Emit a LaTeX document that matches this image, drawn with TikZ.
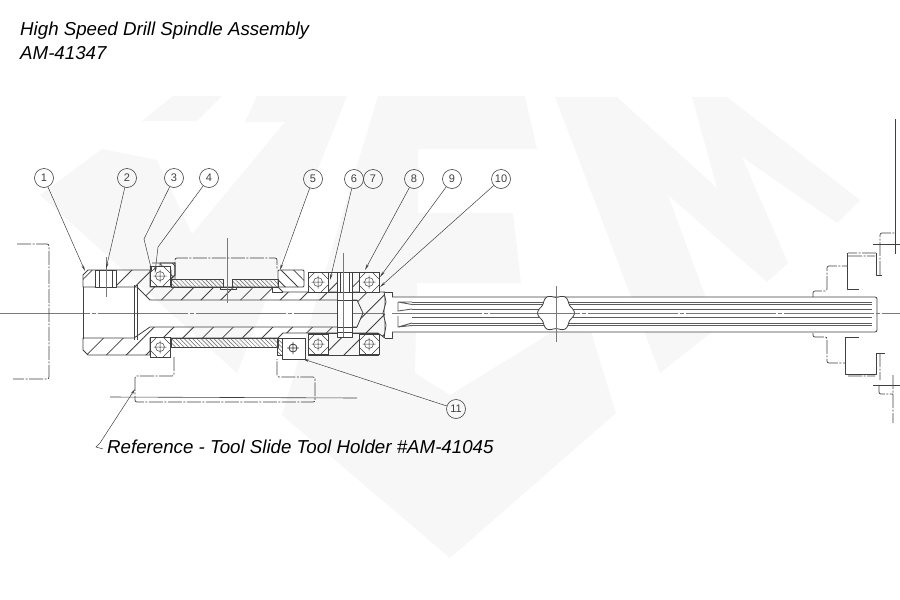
\documentclass[tikz,border=0pt]{standalone}
\usepackage{fontspec}
\usepackage{xcolor}
\setmainfont{Liberation Sans}
\usetikzlibrary{arrows.meta,patterns.meta}
\definecolor{inkgrey}{HTML}{404040}
\definecolor{markgrey}{HTML}{F7F7F7}
\tikzset{
  part/.style={draw=inkgrey, line width=0.8pt, line join=round},
  widehatch/.style={part, pattern={Lines[angle=45,distance=14pt,line width=0.8pt]}, pattern color=inkgrey},
  backhatch/.style={part, pattern={Lines[angle=-45,distance=9pt,line width=0.8pt]}, pattern color=inkgrey},
  finehatch/.style={part, pattern={Lines[angle=-45,distance=3pt,line width=0.5pt]}, pattern color=inkgrey!80},
  phantomline/.style={draw=inkgrey, line width=0.7pt, rounded corners=2pt, dash pattern=on 14pt off 1.5pt on 2pt off 1.5pt},
  centreline/.style={draw=inkgrey!70, line width=0.5pt, dash pattern=on 90pt off 2pt on 4pt off 2pt},
  shaftline/.style={draw=inkgrey!85, line width=0.9pt},
  bubble/.style={circle, draw=inkgrey, line width=0.6pt, minimum size=19pt, inner sep=0pt, font=\fontsize{11}{12}\selectfont, text=inkgrey},
  leader/.style={draw=inkgrey, line width=0.5pt, -{Stealth[length=6pt,width=2.4pt]}},
  caption/.style={anchor=base west, inner sep=0pt, font=\fontsize{18.7}{22}\selectfont\itshape, text=black},
  bearingpic/.pic={
    \draw[draw=inkgrey, line width=0.6pt, fill=white] (-10,-10) rectangle (10,10);
    \draw[draw=inkgrey, line width=0.5pt] (0,0) circle (4.5) (-6.5,0) -- (6.5,0) (0,-6.5) -- (0,6.5);
    \draw[draw=inkgrey, line width=0.5pt]
      (-10,-3) -- (-3,-10) (10,-3) -- (3,-10)
      (-10,3) -- (-3,10) (10,3) -- (3,10)
    ;
  },
}
\begin{document}
\begin{tikzpicture}[x=1pt, y=-1pt]
  \useasboundingbox (0,0) rectangle (900,600);

  \fill[markgrey] (142,121) -- (173,96) -- (222,96) -- (197,121) -- cycle;
  \fill[markgrey]
    (102,149) -- (157,160) -- (192,234) -- (285,122) -- (245,122) -- (257,96)
    -- (347,96) -- (237,373) -- (40,195) -- cycle
  ;
  \fill[markgrey]
    (378,96) -- (525,96) -- (537,149) -- (418,149) -- (418,213) -- (513,213)
    -- (521,283) -- (417,283) -- (415,373) -- (450,395) -- (585,312)
    -- (616,413) -- (450,558) -- (282,415) -- cycle
  ;
  \fill[markgrey]
    (555,97) -- (617,97) -- (717,188) -- (692,97) -- (727,97) -- (860,200)
    -- (837,223) -- (742,157) -- (788,263) -- (767,282) -- (668,195)
    -- (717,328) -- (660,373) -- cycle
  ;

  \node (title) [caption] at (20,35) {High Speed Drill Spindle Assembly};
  \node (number) [caption] at (20,59) {AM-41347};
  \node (refnote) [caption] at (107,453) {Reference - Tool Slide Tool Holder \#AM-41045};

  \draw[centreline] (0,313) -- (392,313);

  \path[widehatch]
    (88,270) -- (150,270) -- (150,287) -- (278,287) -- (283,292) -- (385,292)
    -- (385,338) -- (378,333) -- (283,333) -- (278,338) -- (150,338)
    -- (150,355) -- (88,355) -- (83,350) -- (83,338) -- (134,338) -- (150,327)
    -- (357,327) -- (363,313) -- (357,300) -- (150,300) -- (137,287) -- (83,287)
    -- (83,275) -- cycle
  ;
  \draw[part, fill=white] (95,270) rectangle (116,287);
  \draw[part]
    (99,270) -- (99,287)
    (112,270) -- (112,287)
    (83,287) -- (83,338)
    (134,285) -- (134,340)
    (137,285) -- (137,340)
  ;
  \draw[centreline] (106,257) -- (106,297);

  \draw[part] (152,263) -- (175,263) -- (175,275) -- (171,279);
  \path[backhatch] (160,263) -- (175,263) -- (175,275) -- (171,279) -- (171,270) -- (160,270) -- cycle;
  \draw[finehatch] (171,279) rectangle (223,287);
  \draw[finehatch] (232,279) rectangle (278,287);
  \draw[part] (220,287) rectangle (236,289);
  \draw[finehatch] (171,338) rectangle (278,347);

  \draw[backhatch, rounded corners=1pt] (278,270) rectangle (304,287);
  \draw[part] (272,287) -- (272,292) -- (283,292);
  \draw[finehatch] (277,338) rectangle (282,355);

  \draw[widehatch] (308,272) rectangle (378,292);
  \draw[widehatch] (308,333) rectangle (378,355);
  \pic at (160,276) {bearingpic};
  \pic at (160,347) {bearingpic};
  \pic at (318,282) {bearingpic};
  \pic at (369,282) {bearingpic};
  \pic at (318,344) {bearingpic};
  \pic at (369,344) {bearingpic};

  \draw[part, fill=white] (337,272) -- (352,272) -- (352,337) -- (337,337) -- cycle;
  \draw[part]
    (340,272) -- (340,292)
    (349,272) -- (349,292)
    (337,292) -- (352,292)
    (337,332) -- (352,332)
  ;
  \draw[part] (357,300) -- (337,300) (357,327) -- (337,327);
  \draw[centreline] (343,253) -- (343,337);

  \draw[part, fill=white] (385,292) -- (392,292) -- (392,338) -- (385,338);
  \draw[part] (384,292) -- (386,302) -- (383,313) -- (386,325) -- (384,338);

  \draw[part, fill=white] (282,338) rectangle (305,359);
  \draw[part]
    (293,348) circle (4)
    (287,348) -- (299,348)
    (293,342) -- (293,354)
  ;

  \draw[part, fill=white, rounded corners=2pt] (392,297) -- (877,297) -- (877,332) -- (392,332);
  \foreach \gy in {302,304.5,309,317,323,325.5} {
    \draw[shaftline] (412,\gy) -- (872,\gy);
  }
  \draw[shaftline]
    (398,302) -- (412,302)
    (398,302) -- (398,311) -- (412,309)
    (398,316) -- (398,327) -- (412,325.5)
    (398,327) -- (412,323)
    (398,302) -- (412,304.5)
  ;
  \draw[centreline] (392,313) -- (900,313);
  \draw[part, fill=white]
    plot[domain=0:355, samples=72, smooth cycle] ({556+(17+1.4*cos(6*\x))*cos(\x)}, {313+(17+1.4*cos(6*\x))*sin(\x)})
  ;
  \draw[centreline] (556,286) -- (556,342) (538,313) -- (574,313);

  \draw[centreline] (227,238) -- (227,303);

  \draw[phantomline] (17,244) -- (49,244) -- (49,379) -- (13,379);
  \draw[phantomline] (175,279) -- (175,258) -- (277,258) -- (277,270);
  \draw[phantomline]
    (174,357) -- (174,376) -- (135,376) -- (135,402) -- (315,402) -- (315,377)
    -- (277,377) -- (277,359)
  ;
  \draw[part, line width=0.6pt] (110,397) -- (357,398);

  \draw[phantomline]
    (813,297) -- (813,291) -- (827,291) -- (827,266) -- (847,266)
    (813,333) -- (813,337) -- (827,337) -- (827,363) -- (846,363)
    (876,253) -- (848,253)
    (880,275) -- (880,233) -- (895,233)
    (880,353) -- (880,380)
    (879,385) -- (879,394) -- (893,394)
    (893,375) -- (893,423)
    (848,256) -- (875,256)
    (848,376) -- (875,376)
  ;
  \draw[part, line width=0.7pt]
    (859,289) -- (847,289) -- (847,253)
    (876,253) -- (876,275) -- (882,275)
    (859,337) -- (845,337) -- (845,374) -- (876,374) -- (876,353) -- (885,353)
    (895,119) -- (895,254)
    (873,244) -- (900,244)
    (873,385) -- (900,385)
  ;

  \node (b1) [bubble] at (44,178) {1};
  \node (b2) [bubble] at (127,178) {2};
  \node (b3) [bubble] at (174,178) {3};
  \node (b4) [bubble] at (209,178) {4};
  \node (b5) [bubble] at (313,179) {5};
  \node (b6) [bubble] at (354,179) {6};
  \node (b7) [bubble] at (373,179) {7};
  \node (b8) [bubble] at (414,179) {8};
  \node (b9) [bubble] at (452,179) {9};
  \node (b10) [bubble] at (501,179) {10};
  \node (b11) [bubble] at (456,409) {11};

  \coordinate (t1) at (85,271);
  \coordinate (t2) at (106,269);
  \coordinate (k3) at (144,239);
  \coordinate (t3) at (152,272);
  \coordinate (k4) at (158,247);
  \coordinate (t4) at (155,273);
  \coordinate (t5) at (280,270);
  \coordinate (t6) at (330,280);
  \coordinate (t8) at (365,270);
  \coordinate (t9) at (380,277);
  \coordinate (t10) at (380,287);
  \coordinate (t11) at (303,359);
  \coordinate (tref) at (135,389);
  \coordinate (kref) at (100,443);
  \coordinate (eref) at (96,447);
  \coordinate (fref) at (103,449);

  \draw[leader] (b1) -- (t1);
  \draw[leader] (b2) -- (t2);
  \draw[leader] (b3) -- (k3) -- (t3);
  \draw[leader] (b4) -- (k4) -- (t4);
  \draw[leader] (b5) -- (t5);
  \draw[leader] (b6) -- (t6);
  \draw[leader] (b8) -- (t8);
  \draw[leader] (b9) -- (t9);
  \draw[leader] (b10) -- (t10);
  \draw[leader] (b11) -- (t11);
  \draw[leader] (fref) -- (eref) -- (kref) -- (tref);
\end{tikzpicture}
\end{document}
